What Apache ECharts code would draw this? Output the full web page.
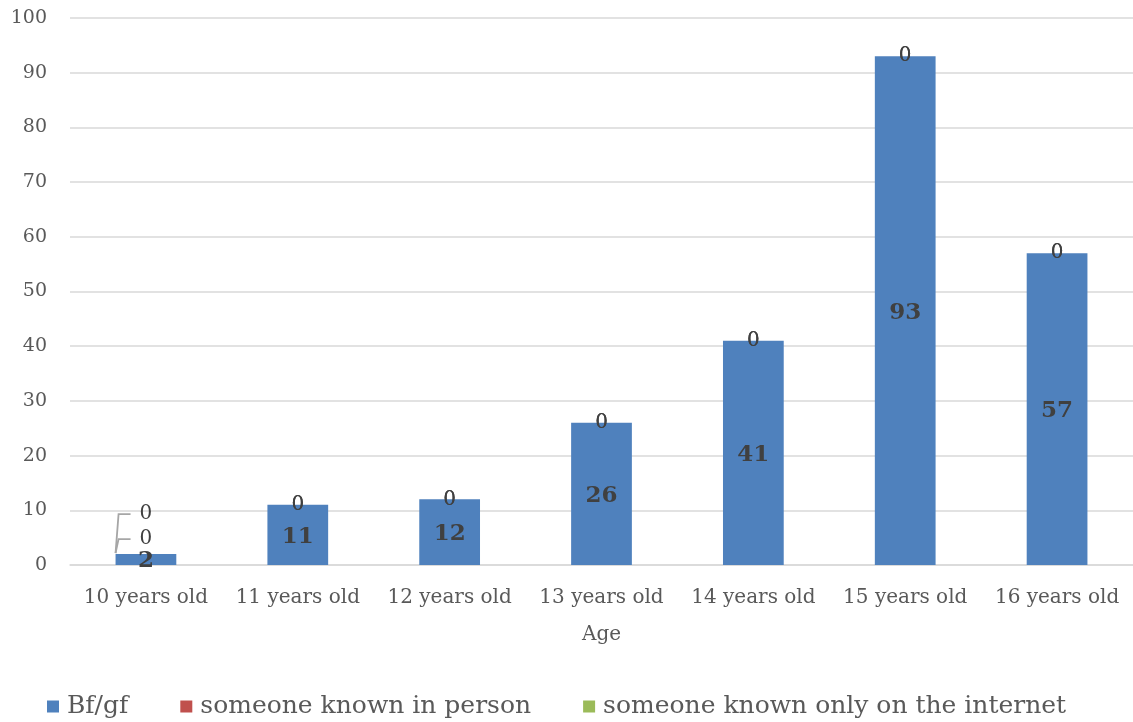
<!DOCTYPE html>
<html>
<head>
<meta charset="utf-8">
<script src="https://cdn.jsdelivr.net/npm/echarts@6/dist/echarts.min.js"></script>
<style>
  html, body { margin: 0; padding: 0; background: #ffffff; }
  #chart { width: 1133px; height: 722px; }
</style>
</head>
<body>
<div id="chart"></div>
<script>
// Who the relationship was with, by age of respondent
const categories = ['10 years old', '11 years old', '12 years old', '13 years old', '14 years old', '15 years old', '16 years old'];
const bfGf = [2, 11, 12, 26, 41, 93, 57];
const knownInPerson = [0, 0, 0, 0, 0, 0, 0];
const knownOnline = [0, 0, 0, 0, 0, 0, 0];
const yTicks = { min: 0, max: 100, interval: 10 };

const FONT = 'DejaVu Serif';
const TEXT = '#595959';
const BAR_SHARE = 0.4;

// Zero labels on the first column are lifted above the short bar
const liftBy = { 1: -15, 2: -40 };

function zeroSeries(name, values, color, seriesIndex) {
  return {
    name: name,
    type: 'bar',
    stack: 'total',
    barWidth: (BAR_SHARE * 100) + '%',
    itemStyle: { color: color },
    data: values,
    label: {
      show: true,
      position: 'inside',
      fontFamily: FONT,
      fontSize: 20,
      color: '#404040'
    },
    labelLayout: function (p) {
      return p.dataIndex === 0 ? { dy: liftBy[seriesIndex] } : {};
    }
  };
}

const option = {
  animation: false,
  backgroundColor: '#ffffff',
  textStyle: { fontFamily: FONT },
  grid: { left: 70, right: 0, top: 18, bottom: 157, containLabel: false },
  legend: {
    left: 47,
    bottom: 3,
    padding: 0,
    itemWidth: 12,
    itemHeight: 12,
    itemGap: 52,
    icon: 'rect',
    textStyle: { fontFamily: FONT, fontSize: 25, color: TEXT, padding: [0, 0, 0, 3] },
    data: ['Bf/gf', 'someone known in person', 'someone known only on the internet']
  },
  xAxis: {
    type: 'category',
    data: categories,
    name: 'Age',
    nameLocation: 'middle',
    nameGap: 60,
    nameTextStyle: { fontFamily: FONT, fontSize: 20, color: TEXT },
    axisLine: { lineStyle: { color: '#d9d9d9', width: 1.5 } },
    axisTick: { show: false },
    axisLabel: { fontFamily: FONT, fontSize: 20, color: TEXT, margin: 23, interval: 0 }
  },
  yAxis: {
    type: 'value',
    min: yTicks.min,
    max: yTicks.max,
    interval: yTicks.interval,
    axisLine: { show: false },
    axisTick: { show: false },
    axisLabel: { fontFamily: FONT, fontSize: 19, color: TEXT, margin: 23 },
    splitLine: { lineStyle: { color: '#d9d9d9', width: 1.5 } }
  },
  series: [
    {
      name: 'Bf/gf',
      type: 'bar',
      stack: 'total',
      barWidth: (BAR_SHARE * 100) + '%',
      itemStyle: { color: '#4f81bd' },
      data: bfGf,
      label: {
        show: true,
        position: 'inside',
        offset: [0, 2],
        fontFamily: FONT,
        fontWeight: 'bold',
        fontSize: 23,
        color: '#404040'
      }
    },
    zeroSeries('someone known in person', knownInPerson, '#c0504d', 1),
    zeroSeries('someone known only on the internet', knownOnline, '#9bbb59', 2)
  ]
};

const chart = echarts.init(document.getElementById('chart'), null, { renderer: 'canvas' });
chart.setOption(option);

// Leader lines from the top of the first bar to its lifted zero labels,
// positioned through the axes' own pixel conversion.
(function addLeaderLines() {
  const top = chart.convertToPixel({ seriesIndex: 0 }, [0, bfGf[0]]);
  const next = chart.convertToPixel({ seriesIndex: 0 }, [1, bfGf[0]]);
  const halfBar = (next[0] - top[0]) * BAR_SHARE / 2;
  const x0 = top[0] - halfBar;
  const lines = [1, 2].map(function (s) {
    const cy = top[1] + liftBy[s];
    return {
      type: 'polyline',
      silent: true,
      shape: { points: [[x0, top[1] - 1], [x0 + 3, cy], [x0 + 15, cy]] },
      style: { stroke: '#a6a6a6', lineWidth: 1.8, fill: null }
    };
  });
  chart.setOption({ graphic: lines });
})();
</script>
</body>
</html>
